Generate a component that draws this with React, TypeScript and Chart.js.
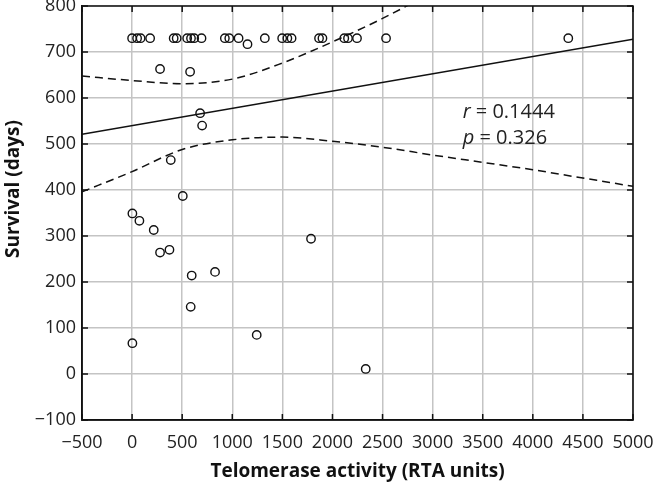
import { useEffect, useRef } from "react";
import { Chart, registerables } from "chart.js";

Chart.register(...registerables);

// Censored patients plotted at 730 days (top row)
const topRowX = [0, 50, 85, 180, 415, 445, 550, 588, 620, 693, 926, 970, 1063, 1325, 1498, 1550, 1592, 1866, 1900, 2118, 2155, 2245, 2535, 4354];
const topRowSurvival = 730;

// Remaining patients
const otherX = [1152, 279, 579, 679, 699, 386, 506, 3, 73, 216, 279, 373, 595, 828, 1786, 585, 3, 1244, 2332];
const otherY = [717, 663, 657, 567, 540, 465, 387, 349, 333, 313, 264, 270, 214, 222, 294, 146, 67, 85, 11];

// Regression line
const fitX = [-500, 5000];
const fitY = [521, 728];

// 95% confidence band
const upperX = [-500, 0, 500, 1000, 1500, 2000, 2500, 3000];
const upperY = [648, 638, 631, 641, 676, 722, 773, 830];
const lowerX = [-500, 0, 500, 1000, 1500, 2000, 2500, 3000, 3500, 4000, 4500, 5000];
const lowerY = [396, 440, 488, 509, 515, 506, 493, 476, 460, 444, 426, 408];

const xTitle = "Telomerase activity (RTA units)";
const yTitle = "Survival (days)";
const statR = "0.1444";
const statP = "0.326";

const FONT = '"Open Sans", "Noto Sans", sans-serif';

const fmt = (v: number) => (v < 0 ? "\u2212" + Math.abs(v) : String(v));

const framePlugin = {
  id: "frame",
  afterDraw(chart: any) {
    const { ctx, chartArea: a, scales } = chart;
    const xs = scales.x;
    const ys = scales.y;
    ctx.save();
    ctx.strokeStyle = "#111";
    ctx.lineWidth = 1.6;
    ctx.beginPath();
    ctx.rect(a.left, a.top, a.right - a.left, a.bottom - a.top);
    ctx.stroke();
    ctx.lineWidth = 1.5;
    const tl = 6;
    ctx.beginPath();
    xs.ticks.forEach((t: any) => {
      const px = xs.getPixelForValue(t.value);
      ctx.moveTo(px, a.bottom);
      ctx.lineTo(px, a.bottom - tl);
      ctx.moveTo(px, a.top);
      ctx.lineTo(px, a.top + tl);
    });
    ys.ticks.forEach((t: any) => {
      const py = ys.getPixelForValue(t.value);
      ctx.moveTo(a.left, py);
      ctx.lineTo(a.left + tl, py);
      ctx.moveTo(a.right, py);
      ctx.lineTo(a.right - tl, py);
    });
    ctx.stroke();

    // y-axis title
    ctx.fillStyle = "#111";
    ctx.font = `bold 19px ${FONT}`;
    ctx.textAlign = "center";
    ctx.textBaseline = "middle";
    ctx.translate(14, 189);
    ctx.rotate(-Math.PI / 2);
    ctx.fillText(yTitle, 0, 0);
    ctx.restore();

    // statistics annotation
    ctx.save();
    ctx.fillStyle = "#222";
    ctx.textBaseline = "middle";
    ctx.textAlign = "left";
    const sx = xs.getPixelForValue(3300);
    const drawStat = (sym: string, val: string, yv: number) => {
      const py = ys.getPixelForValue(yv);
      ctx.font = `italic 20px ${FONT}`;
      ctx.fillText(sym, sx, py);
      const w = ctx.measureText(sym).width;
      ctx.font = `20px ${FONT}`;
      ctx.fillText(" = " + val, sx + w, py);
    };
    drawStat("r", statR, 568);
    drawStat("p", statP, 512);
    ctx.restore();
  },
};

export default function App() {
  const ref = useRef<HTMLCanvasElement>(null);
  useEffect(() => {
    if (!ref.current) return;
    const chart = new Chart(ref.current, {
      type: "scatter",
      data: {
        datasets: [
          {
            label: "upper",
            data: upperX.map((x, i) => ({ x, y: upperY[i] })),
            showLine: true,
            borderColor: "#111",
            borderWidth: 1.5,
            borderDash: [8, 5],
            pointRadius: 0,
            cubicInterpolationMode: "monotone",
          } as any,
          {
            label: "lower",
            data: lowerX.map((x, i) => ({ x, y: lowerY[i] })),
            showLine: true,
            borderColor: "#111",
            borderWidth: 1.5,
            borderDash: [8, 5],
            pointRadius: 0,
            cubicInterpolationMode: "monotone",
          } as any,
          {
            label: "fit",
            data: fitX.map((x, i) => ({ x, y: fitY[i] })),
            showLine: true,
            borderColor: "#111",
            borderWidth: 1.5,
            pointRadius: 0,
          },
          {
            label: "patients",
            data: [
              ...topRowX.map((x) => ({ x, y: topRowSurvival })),
              ...otherX.map((x, i) => ({ x, y: otherY[i] })),
            ],
            pointRadius: 4.2,
            pointBorderWidth: 1.4,
            pointBackgroundColor: "rgba(0,0,0,0)",
            pointBorderColor: "#111",
          },
        ],
      },
      options: {
        animation: false,
        responsive: false,
        plugins: { legend: { display: false }, tooltip: { enabled: false } },
        layout: { padding: { top: 6, right: 20, left: 0, bottom: 0 } },
        scales: {
          x: {
            type: "linear",
            min: -500,
            max: 5000,
            afterFit: (s: any) => {
              s.height = 70;
              s.paddingLeft = 0;
              s.paddingRight = 0;
            },
            ticks: {
              stepSize: 500,
              padding: 12,
              color: "#222",
              font: { family: FONT, size: 18 },
              callback: (v: any) => fmt(Number(v)),
              maxRotation: 0,
              autoSkip: false,
            },
            grid: { color: "#c4c4c4", lineWidth: 1.5, drawTicks: false },
            border: { display: true, color: "#111", width: 1.5 },
            title: {
              display: true,
              text: xTitle,
              color: "#111",
              font: { family: FONT, size: 19, weight: "bold", lineHeight: 1.2 },
              padding: { top: 0, bottom: 7 },
            },
          },
          y: {
            type: "linear",
            min: -100,
            max: 800,
            afterFit: (s: any) => {
              s.width = 82;
              s.paddingTop = 0;
              s.paddingBottom = 0;
            },
            ticks: {
              stepSize: 100,
              padding: 6,
              color: "#222",
              font: { family: FONT, size: 18 },
              callback: (v: any) => fmt(Number(v)),
              autoSkip: false,
            },
            grid: { color: "#c4c4c4", lineWidth: 1.5, drawTicks: false },
            border: { display: true, color: "#111", width: 1.5 },
          },
        },
      },
      plugins: [framePlugin],
    });
    return () => chart.destroy();
  }, []);
  return (
    <div style={{ position: "fixed", left: 0, top: 0, width: 653, height: 490, background: "#fff" }}>
      <canvas ref={ref} width={653} height={490} />
    </div>
  );
}
